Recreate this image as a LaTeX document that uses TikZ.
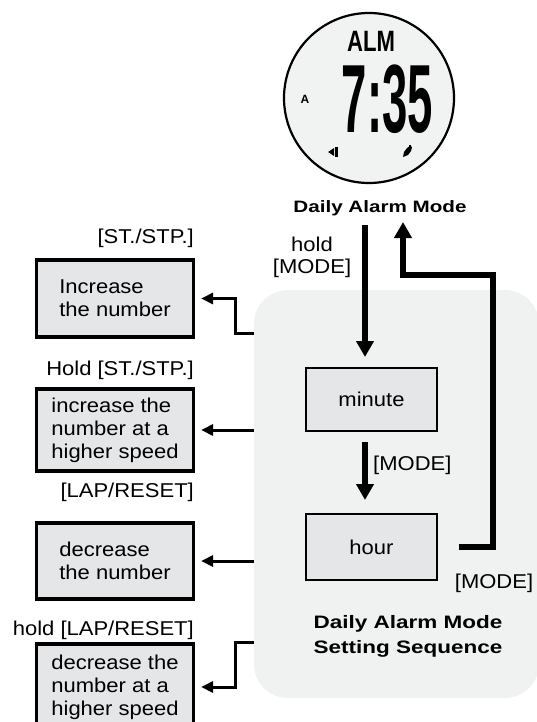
\documentclass[tikz,border=0pt]{standalone}
\usepackage{fontspec}
\usepackage{graphicx}
\setmainfont{Liberation Sans}[FakeStretch=1.1]
\newfontfamily\titlefont{Liberation Sans}[FakeStretch=1.25]
\newfontfamily\lcdfont{Liberation Sans}
\usetikzlibrary{arrows.meta}
\definecolor{regioncol}{HTML}{F0F1F1}
\definecolor{boxcol}{HTML}{E5E6E8}
\definecolor{facecol}{HTML}{F1F2F2}
\tikzset{
  txt/.style={font=\fontsize{20}{22}\selectfont, inner sep=0pt},
  sidebox/.style={draw, line width=3.2pt, fill=boxcol, minimum width=157pt,
    align=left, font=\fontsize{20}{23}\selectfont, inner sep=0pt},
  statebox/.style={draw, line width=2pt, fill=boxcol, minimum width=131pt,
    font=\fontsize{20}{23}\selectfont},
  titletxt/.style={font=\titlefont\bfseries\fontsize{18}{25}\selectfont, align=center, inner sep=0pt},
  bigarrow/.style={line width=5.5pt, -{Triangle[width=17pt,length=16pt]}},
  smallarrow/.style={line width=3pt, -{Triangle[width=11pt,length=12pt]}, shorten >=6pt},
  region/.style={fill=regioncol, rounded corners=34pt, minimum width=285pt, minimum height=408pt, inner sep=0pt},
}
\begin{document}
\begin{tikzpicture}[x=1pt,y=-1pt]
\useasboundingbox (0,0) rectangle (537,722);
\clip (0,0) rectangle (537,722);

% setting region
\node[region] (seq) at (396.5,494) {};

% watch face
\node[draw, circle, line width=2.2pt, fill=facecol, minimum size=170pt, inner sep=0pt] (watch) at (369,98) {};
\node[inner sep=0pt] (alm) at (371,41) {\scalebox{0.69}[0.92]{\lcdfont\bfseries\fontsize{32}{32}\selectfont ALM}};
\node[inner sep=0pt] (time) at (387.5,99) {\scalebox{0.446}[0.95]{\lcdfont\bfseries\fontsize{102}{102}\selectfont 7:35}};
\node[inner sep=0pt, font=\lcdfont\bfseries\fontsize{12}{12}\selectfont] (aind) at (305,99) {A};
\fill (328,152) -- (334,148) -- (334,156) -- cycle;
\fill (335,147) rectangle (338,157);
\fill (403,157) -- (404,152) -- (407,148) -- (410,146) -- (412,147) -- (411,151) -- (408,155) -- cycle;
\fill (409,145) rectangle (411,147);

% titles
\node[titletxt, font=\titlefont\bfseries\fontsize{16.5}{20}\selectfont] (modelabel) at (380,208) {Daily Alarm Mode};
\node[titletxt] (seqtitle) at (408,636) {Daily Alarm Mode\\Setting Sequence};

% state boxes
\node[statebox, minimum height=63pt] (minute) at (371.5,399.5) {minute};
\node[statebox, minimum height=66pt] (hour) at (371.5,547) {hour};

% labels of main flow
\node[txt, align=center] (holdlbl) at (312,257) {hold\\{[MODE]}};
\node[txt, anchor=west] (modelbl1) at (373,465) {[MODE]};
\node[txt] (modelbl2) at (494,583) {[MODE]};

% main arrows
\coordinate (d1) at (365,225);
\draw[bigarrow, shorten >=10pt] (d1) -- (d1 |- minute.north);
\draw[bigarrow, shorten <=10pt, shorten >=13pt] (minute.south -| d1) -- (hour.north -| d1);
\coordinate (r1) at (493,275);
\coordinate (up) at (403,222);
\draw[bigarrow, shorten <=21pt] (hour.east) -| (r1) -| (up);

% side boxes
\node[sidebox, minimum height=77pt] (box1) at (115,298.5) {Increase\\the number};
\node[sidebox, minimum height=82pt] (box2) at (115,430) {increase the\\number at a\\higher speed};
\node[sidebox, minimum height=76pt] (box3) at (115,561) {decrease\\the number};
\node[sidebox, minimum height=86pt] (box4) at (115,687) {decrease the\\number at a\\higher speed};

% side labels
\node[txt, anchor=east] (lbl1) at (194,238) {[ST./STP.]};
\node[txt, anchor=east] (lbl2) at (194,370) {Hold [ST./STP.]};
\node[txt, anchor=east] (lbl3) at (194,492) {[LAP/RESET]};
\node[txt, anchor=east] (lbl4) at (194,630) {hold [LAP/RESET]};

% side connectors
\coordinate (e1) at (seq.west |- 0,333);
\coordinate (k1) at (235,333);
\draw[smallarrow] (e1) -- (k1) |- (box1.east);
\coordinate (e2) at (seq.west |- box2.east);
\draw[smallarrow] (e2) -- (box2.east);
\coordinate (e3) at (seq.west |- box3.east);
\draw[smallarrow] (e3) -- (box3.east);
\coordinate (e4) at (seq.west |- 0,642);
\coordinate (k4) at (235,642);
\draw[smallarrow] (e4) -- (k4) |- (box4.east);
\end{tikzpicture}
\end{document}
